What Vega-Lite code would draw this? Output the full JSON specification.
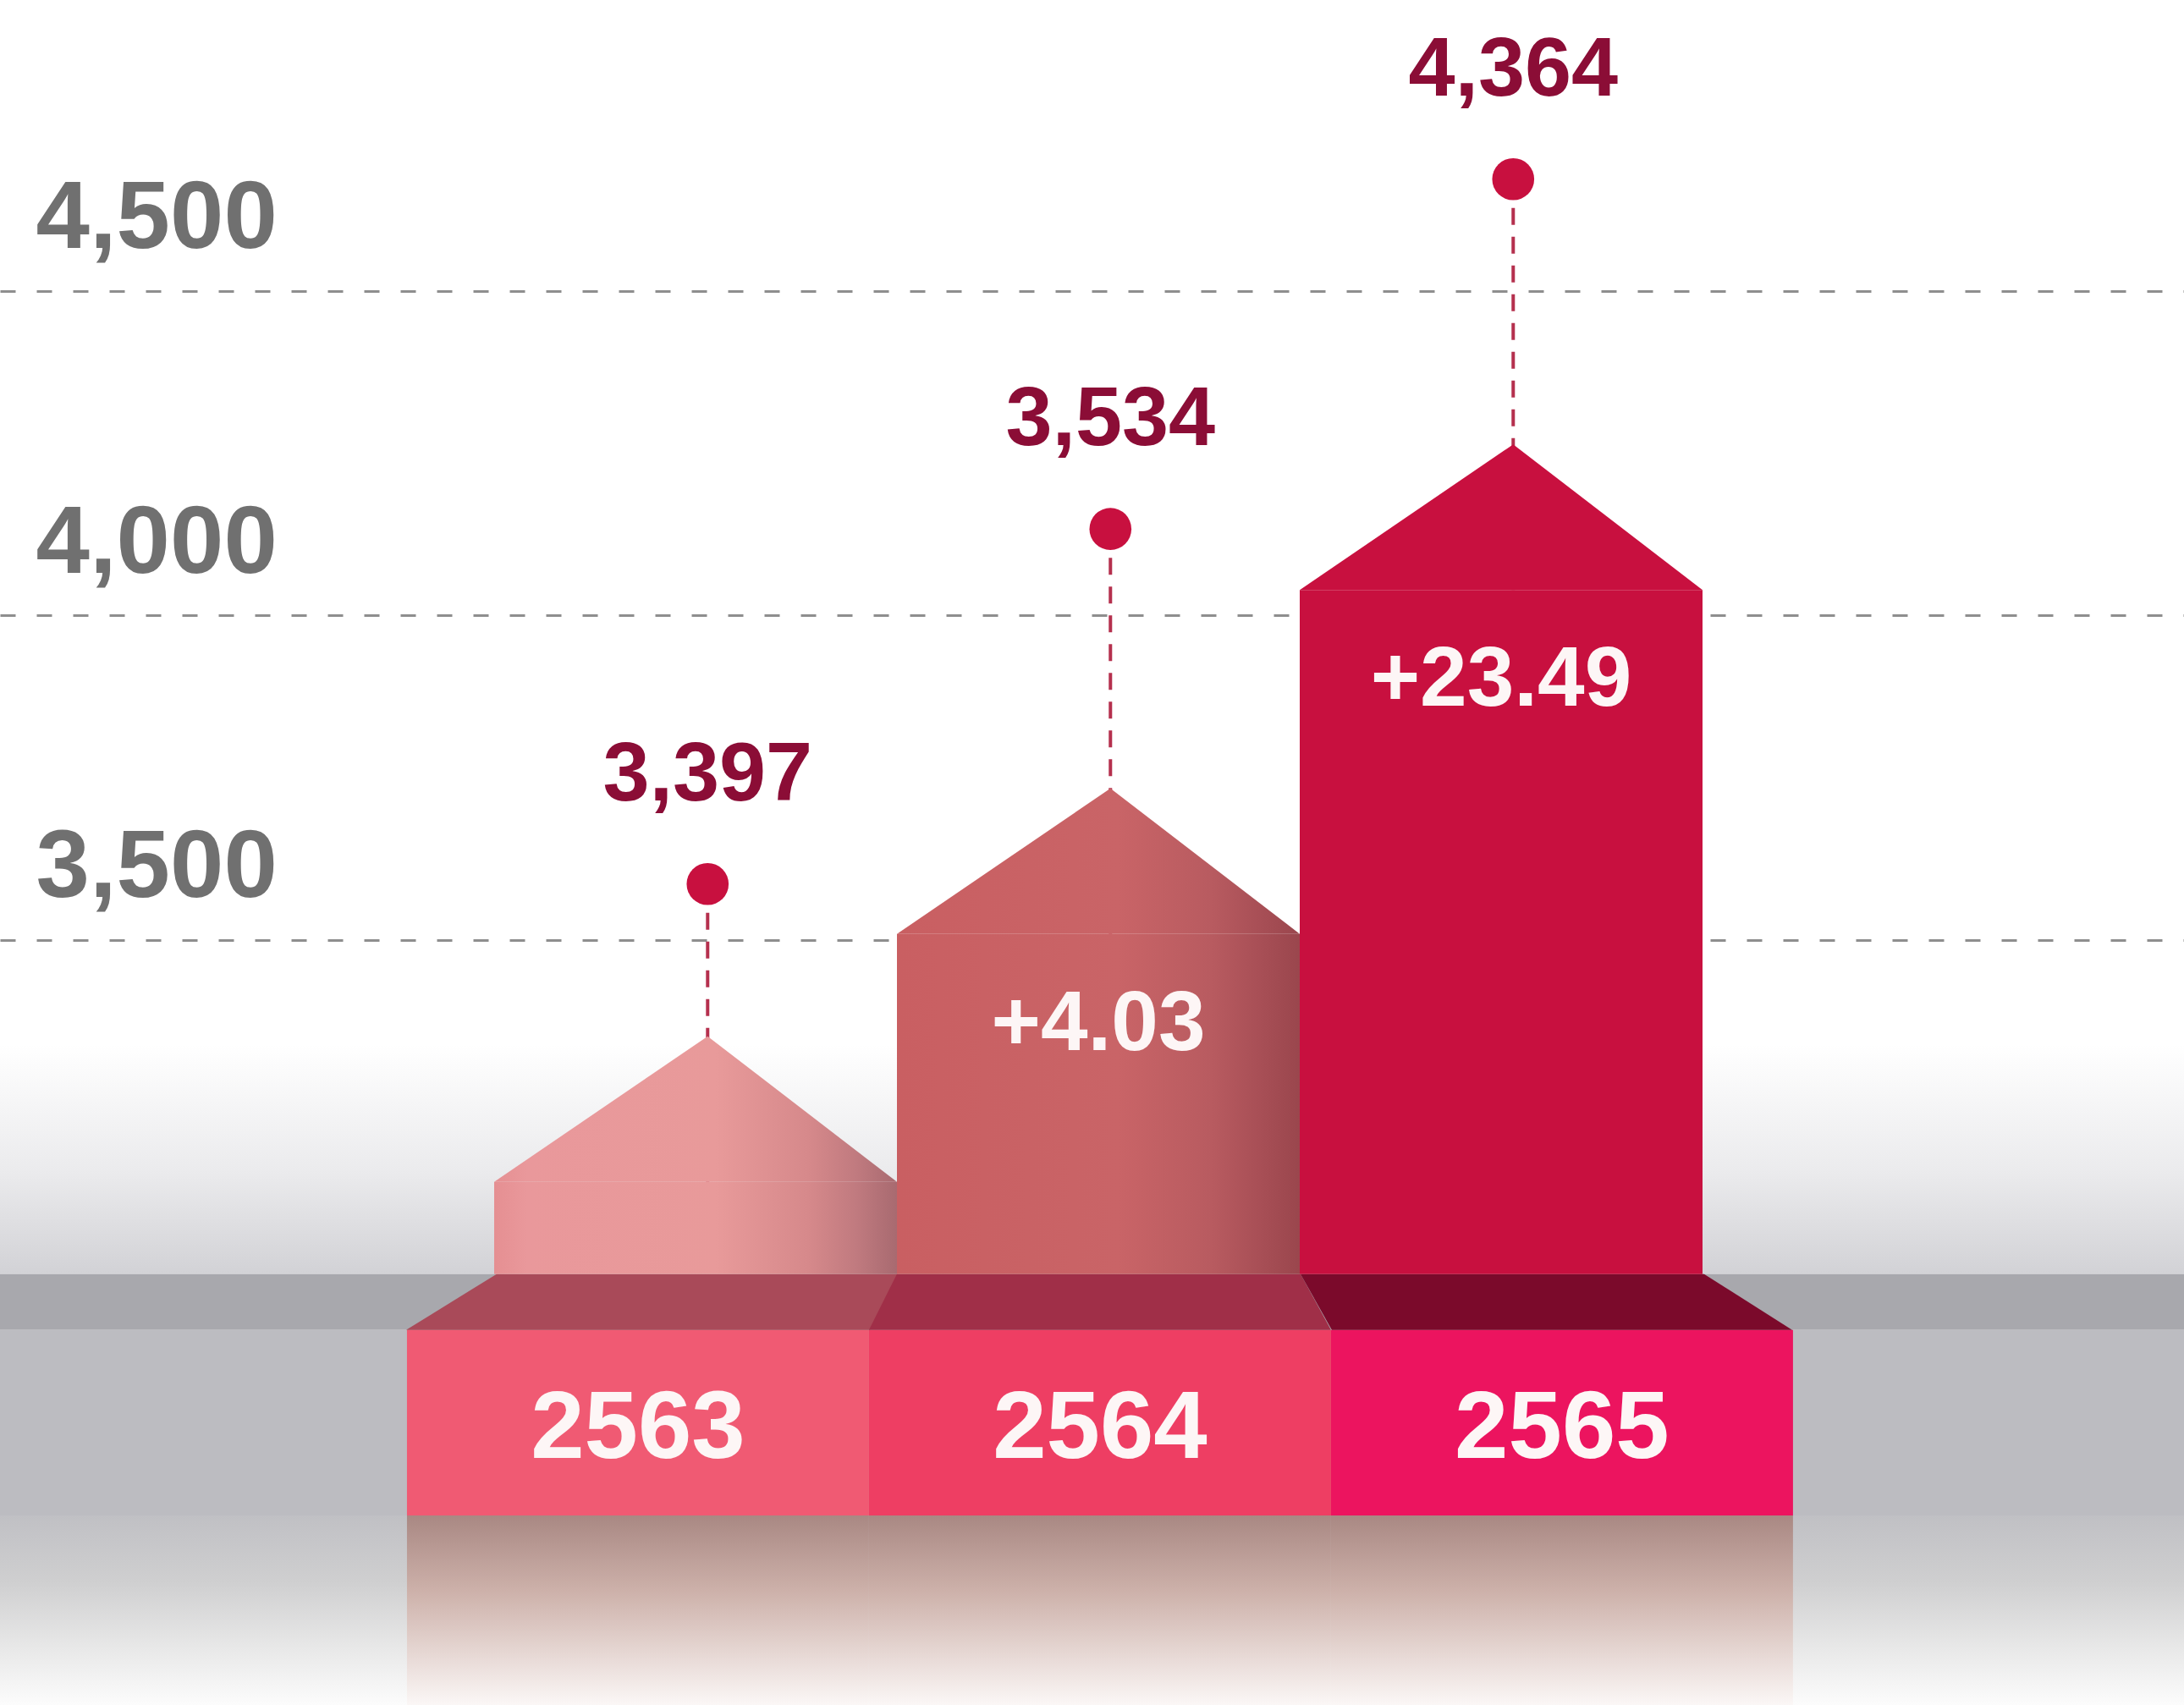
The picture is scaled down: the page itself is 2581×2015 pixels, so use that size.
{
  "$schema": "https://vega.github.io/schema/vega-lite/v6.json",
  "width": 2581,
  "height": 2015,
  "autosize": {"type": "fit", "contains": "padding"},
  "padding": 0,
  "background": "#ffffff",
  "config": {"view": {"stroke": null}, "font": "Liberation Sans"},
  "data": {"values": [
    {"year": "2563", "value": 3397, "shoulder": 3127, "dot": 3586},
    {"year": "2564", "value": 3534, "change": 4.03, "shoulder": 3509, "dot": 4133},
    {"year": "2565", "value": 4364, "change": 23.49, "shoulder": 4039, "dot": 4672}
  ]},
  "resolve": {"scale": {"x": "independent", "fill": "independent", "shape": "independent"}},
  "layer": [
    {
      "mark": {"type": "point", "shape": "circle", "filled": true, "opacity": 0, "size": 1},
      "encoding": {
        "y": {
          "field": "dot", "type": "quantitative",
          "scale": {"domain": [2321, 4948], "nice": false, "zero": false},
          "axis": {"values": [3500, 4000, 4500], "format": ",.0f", "title": null, "domain": false, "ticks": false, "grid": true, "gridDash": [18, 25], "gridColor": "#8e8e8e", "gridWidth": 3, "labelAlign": "left", "labelBaseline": "alphabetic", "labelPadding": -42, "labelOffset": -51, "labelFont": "Liberation Sans", "labelFontWeight": "bold", "labelFontSize": 114, "labelColor": "#707070", "labelLimit": 0, "labelOverlap": false, "labelFlush": false, "labelBound": false}
        }
      }
    },
    {
      "data": {"values": [{"part": "backdrop"}]},
      "mark": {"type": "rect", "fill": {"gradient": "linear", "x1": 0, "y1": 0, "x2": 0, "y2": 1, "stops": [{"offset": 0, "color": "#ffffff"}, {"offset": 0.55, "color": "#ebebed"}, {"offset": 1, "color": "#d2d2d6"}]}},
      "encoding": {
        "y": {"datum": 3339, "type": "quantitative", "title": null, "scale": {"domain": [2321, 4948], "nice": false, "zero": false}},
        "y2": {"datum": 2985}
      }
    },
    {
      "data": {"values": [{"part": "platform top"}]},
      "mark": {"type": "rect", "fill": "#a8a8ad"},
      "encoding": {
        "y": {"datum": 2985, "type": "quantitative", "title": null, "scale": {"domain": [2321, 4948], "nice": false, "zero": false}},
        "y2": {"datum": 2899}
      }
    },
    {
      "data": {"values": [{"part": "platform front"}]},
      "mark": {"type": "rect", "fill": "#bcbcc1"},
      "encoding": {
        "y": {"datum": 2899, "type": "quantitative", "title": null, "scale": {"domain": [2321, 4948], "nice": false, "zero": false}},
        "y2": {"datum": 2613}
      }
    },
    {
      "data": {"values": [{"part": "reflection"}]},
      "mark": {"type": "rect", "fill": {"gradient": "linear", "x1": 0, "y1": 0, "x2": 0, "y2": 1, "stops": [{"offset": 0, "color": "#c0c0c4"}, {"offset": 0.35, "color": "#cfcfd0"}, {"offset": 0.7, "color": "#e8e8e8"}, {"offset": 1, "color": "#fcfcfc"}]}},
      "encoding": {
        "y": {"datum": 2613, "type": "quantitative", "title": null, "scale": {"domain": [2321, 4948], "nice": false, "zero": false}},
        "y2": {"datum": 2321}
      }
    },
    {
      "mark": {"type": "bar", "fill": {"gradient": "linear", "x1": 0, "y1": 0, "x2": 0, "y2": 1, "stops": [{"offset": 0, "color": "#a98883"}, {"offset": 0.4, "color": "#cdb1aa"}, {"offset": 1, "color": "#fbf7f6"}]}},
      "encoding": {
        "x": {"field": "year", "type": "nominal", "scale": {"type": "band", "domain": ["2563", "2564", "2565"], "paddingInner": 0, "paddingOuter": 0.8636, "align": 0.51}, "axis": null},
        "y": {"datum": 2613, "type": "quantitative", "title": null, "scale": {"domain": [2321, 4948], "nice": false, "zero": false}},
        "y2": {"datum": 2321}
      }
    },
    {
      "mark": {"type": "bar"},
      "encoding": {
        "x": {"field": "year", "type": "nominal", "scale": {"type": "band", "domain": ["2563", "2564", "2565"], "paddingInner": 0, "paddingOuter": 0.8636, "align": 0.51}, "axis": null},
        "y": {"datum": 2899, "type": "quantitative", "title": null, "scale": {"domain": [2321, 4948], "nice": false, "zero": false}},
        "y2": {"datum": 2613},
        "fill": {"field": "year", "type": "nominal", "scale": {"range": ["#f05a73", "#ee3e63", "#ec145f"]}, "legend": null}
      }
    },
    {
      "mark": {"type": "point", "filled": true, "opacity": 1, "strokeWidth": 0},
      "encoding": {
        "x": {"field": "year", "type": "nominal", "scale": {"type": "band", "domain": ["2563", "2564", "2565"], "paddingInner": 0, "paddingOuter": 0.8636, "align": 0.51}, "axis": null},
        "y": {"datum": 2985, "type": "quantitative", "title": null, "scale": {"domain": [2321, 4948], "nice": false, "zero": false}},
        "shape": {"field": "year", "type": "nominal", "scale": {"range": ["M-1.67,0L3.07,0L2.74,0.66L-2.74,0.66Z", "M-2.4,0L2.37,0L2.73,0.66L-2.73,0.66Z", "M-3.09,0L1.68,0L2.72,0.66L-2.72,0.66Z"]}, "legend": null},
        "size": {"value": 40000},
        "fill": {"field": "year", "type": "nominal", "scale": {"range": ["#a94a59", "#a02f48", "#7b0a2b"]}, "legend": null}
      }
    },
    {
      "mark": {"type": "rule", "color": "#b5304e", "strokeWidth": 4, "strokeDash": [20, 14]},
      "encoding": {
        "x": {"field": "year", "type": "nominal", "bandPosition": 0.53, "scale": {"type": "band", "domain": ["2563", "2564", "2565"], "range": [584, 2012], "paddingInner": 0, "paddingOuter": 0}, "axis": null},
        "y": {"field": "dot", "type": "quantitative", "title": null, "scale": {"domain": [2321, 4948], "nice": false, "zero": false}},
        "y2": {"field": "shoulder"}
      }
    },
    {
      "mark": {"type": "bar"},
      "encoding": {
        "x": {"field": "year", "type": "nominal", "scale": {"type": "band", "domain": ["2563", "2564", "2565"], "range": [584, 2012], "paddingInner": 0, "paddingOuter": 0}, "axis": null},
        "y": {"field": "shoulder", "type": "quantitative", "title": null, "scale": {"domain": [2321, 4948], "nice": false, "zero": false}},
        "y2": {"datum": 2985},
        "fill": {
          "condition": [
            {"test": "datum.year === '2563'", "value": {"gradient": "linear", "x1": 0, "y1": 0, "x2": 1, "y2": 0, "stops": [{"offset": 0, "color": "#e58f92"}, {"offset": 0.08, "color": "#e9989b"}, {"offset": 0.55, "color": "#e89a9a"}, {"offset": 0.78, "color": "#d6898b"}, {"offset": 0.9, "color": "#c07a7f"}, {"offset": 1, "color": "#a86a70"}]}},
            {"test": "datum.year === '2564'", "value": {"gradient": "linear", "x1": 0, "y1": 0, "x2": 1, "y2": 0, "stops": [{"offset": 0, "color": "#c95f62"}, {"offset": 0.55, "color": "#c96467"}, {"offset": 0.78, "color": "#b85b60"}, {"offset": 0.9, "color": "#a84f56"}, {"offset": 1, "color": "#9a464d"}]}}
          ],
          "value": "#c8103f"
        }
      }
    },
    {
      "mark": {"type": "point", "filled": true, "opacity": 1, "strokeWidth": 0},
      "encoding": {
        "x": {"field": "year", "type": "nominal", "scale": {"type": "band", "domain": ["2563", "2564", "2565"], "range": [584, 2012], "paddingInner": 0, "paddingOuter": 0}, "axis": null},
        "y": {"field": "shoulder", "type": "quantitative", "title": null, "scale": {"domain": [2321, 4948], "nice": false, "zero": false}},
        "shape": {"value": "M-1,0L0.06,-0.723L1,0Z"},
        "size": {"value": 226576},
        "fill": {
          "condition": [
            {"test": "datum.year === '2563'", "value": {"gradient": "linear", "x1": 0, "y1": 0, "x2": 1, "y2": 0, "stops": [{"offset": 0, "color": "#e58f92"}, {"offset": 0.08, "color": "#e9989b"}, {"offset": 0.55, "color": "#e89a9a"}, {"offset": 0.78, "color": "#d6898b"}, {"offset": 0.9, "color": "#c07a7f"}, {"offset": 1, "color": "#a86a70"}]}},
            {"test": "datum.year === '2564'", "value": {"gradient": "linear", "x1": 0, "y1": 0, "x2": 1, "y2": 0, "stops": [{"offset": 0, "color": "#c95f62"}, {"offset": 0.55, "color": "#c96467"}, {"offset": 0.78, "color": "#b85b60"}, {"offset": 0.9, "color": "#a84f56"}, {"offset": 1, "color": "#9a464d"}]}}
          ],
          "value": "#c8103f"
        }
      }
    },
    {
      "mark": {"type": "point", "shape": "circle", "filled": true, "opacity": 1, "color": "#c8103f", "size": 2463, "strokeWidth": 0},
      "encoding": {
        "x": {"field": "year", "type": "nominal", "bandPosition": 0.53, "scale": {"type": "band", "domain": ["2563", "2564", "2565"], "range": [584, 2012], "paddingInner": 0, "paddingOuter": 0}, "axis": null},
        "y": {"field": "dot", "type": "quantitative", "title": null, "scale": {"domain": [2321, 4948], "nice": false, "zero": false}}
      }
    },
    {
      "mark": {"type": "text", "font": "Liberation Sans", "fontWeight": "bold", "fontSize": 99, "color": "#8b0d36", "align": "center", "baseline": "alphabetic", "dy": -99},
      "encoding": {
        "x": {"field": "year", "type": "nominal", "bandPosition": 0.53, "scale": {"type": "band", "domain": ["2563", "2564", "2565"], "range": [584, 2012], "paddingInner": 0, "paddingOuter": 0}, "axis": null},
        "y": {"field": "dot", "type": "quantitative", "title": null, "scale": {"domain": [2321, 4948], "nice": false, "zero": false}},
        "text": {"field": "value", "type": "quantitative", "format": ","}
      }
    },
    {
      "transform": [{"filter": "isValid(datum.change)"}],
      "mark": {"type": "text", "font": "Liberation Sans", "fontWeight": "bold", "fontSize": 100, "color": "#fdf6f6", "align": "center", "baseline": "alphabetic", "dy": 137},
      "encoding": {
        "x": {"field": "year", "type": "nominal", "bandPosition": 0.5, "scale": {"type": "band", "domain": ["2563", "2564", "2565"], "range": [584, 2012], "paddingInner": 0, "paddingOuter": 0}, "axis": null},
        "y": {"field": "shoulder", "type": "quantitative", "title": null, "scale": {"domain": [2321, 4948], "nice": false, "zero": false}},
        "text": {"field": "change", "type": "quantitative", "format": "+.2f"}
      }
    },
    {
      "mark": {"type": "text", "font": "Liberation Sans", "fontWeight": "bold", "fontSize": 114, "color": "#fdf6f6", "align": "center", "baseline": "alphabetic"},
      "encoding": {
        "x": {"field": "year", "type": "nominal", "scale": {"type": "band", "domain": ["2563", "2564", "2565"], "paddingInner": 0, "paddingOuter": 0.8636, "align": 0.51}, "axis": null},
        "y": {"datum": 2702, "type": "quantitative", "title": null, "scale": {"domain": [2321, 4948], "nice": false, "zero": false}},
        "text": {"field": "year", "type": "nominal"}
      }
    }
  ]
}
